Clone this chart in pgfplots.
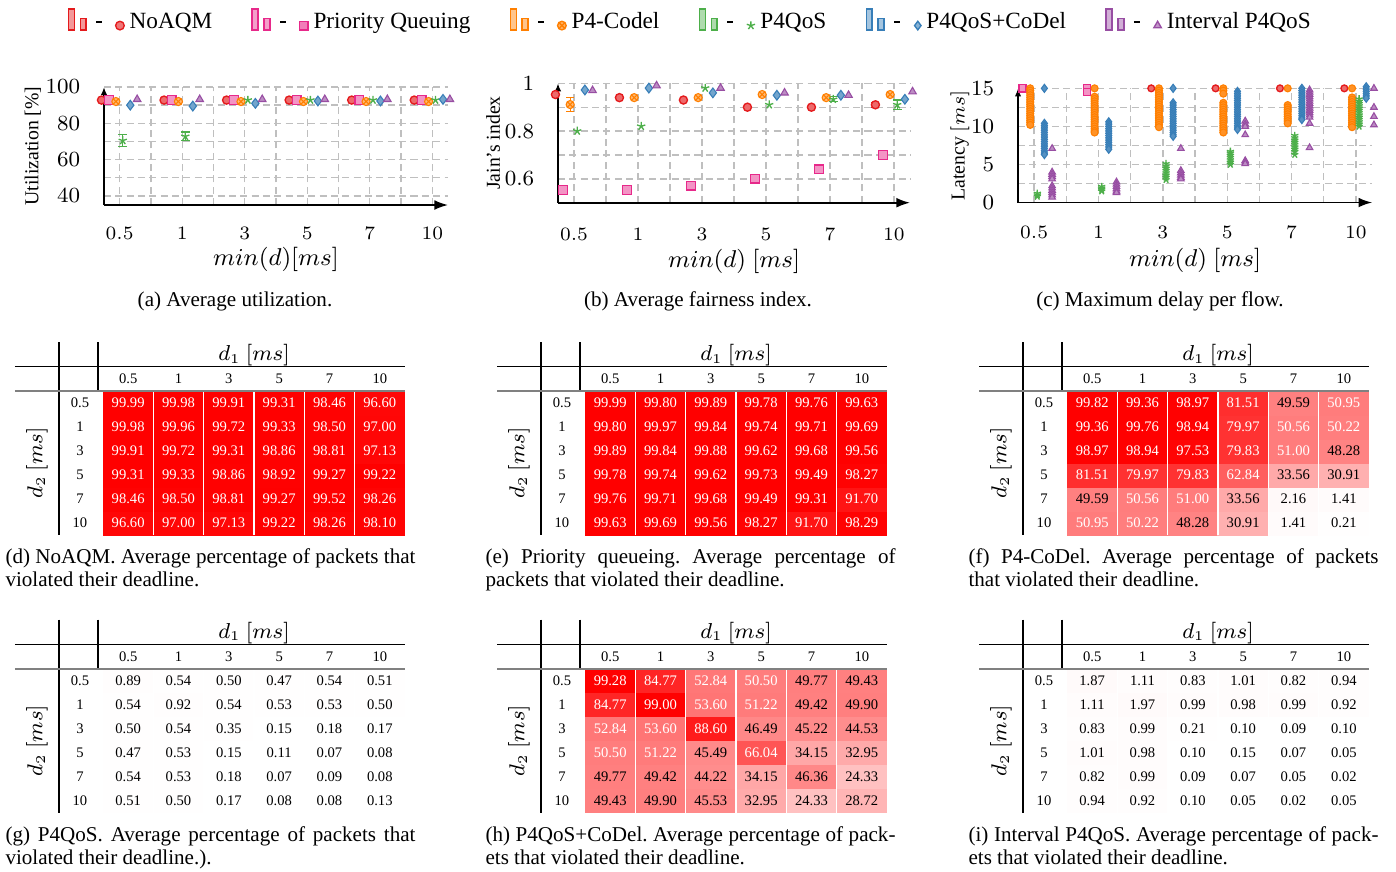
\documentclass[border=0pt]{standalone}
\usepackage{pgfplots}
\pgfplotsset{compat=1.18}
\usepackage{pgfplotstable}
\usepackage{fontspec}
\setmainfont{Liberation Serif}
\usetikzlibrary{arrows.meta}
\definecolor{cNo}{RGB}{228,26,28}
\definecolor{cPQ}{RGB}{231,41,138}
\definecolor{cCo}{RGB}{255,127,0}
\definecolor{cQ}{RGB}{77,175,74}
\definecolor{cQC}{RGB}{55,126,184}
\definecolor{cIn}{RGB}{152,78,163}

% heat-map data: x = column (d1 index), y = 5 - row index (row d2=0.5 at top)
\pgfplotstableread{
x y a b c d e f
0 0 96.60 99.63 50.95 0.51 49.43 0.94
1 0 97.00 99.69 50.22 0.50 49.90 0.92
2 0 97.13 99.56 48.28 0.17 45.53 0.10
3 0 99.22 98.27 30.91 0.08 32.95 0.05
4 0 98.26 91.70 1.41 0.08 24.33 0.02
5 0 98.10 98.29 0.21 0.13 28.72 0.05
0 1 98.46 99.76 49.59 0.54 49.77 0.82
1 1 98.50 99.71 50.56 0.53 49.42 0.99
2 1 98.81 99.68 51.00 0.18 44.22 0.09
3 1 99.27 99.49 33.56 0.07 34.15 0.07
4 1 99.52 99.31 2.16 0.09 46.36 0.05
5 1 98.26 91.70 1.41 0.08 24.33 0.02
0 2 99.31 99.78 81.51 0.47 50.50 1.01
1 2 99.33 99.74 79.97 0.53 51.22 0.98
2 2 98.86 99.62 79.83 0.15 45.49 0.10
3 2 98.92 99.73 62.84 0.11 66.04 0.15
4 2 99.27 99.49 33.56 0.07 34.15 0.07
5 2 99.22 98.27 30.91 0.08 32.95 0.05
0 3 99.91 99.89 98.97 0.50 52.84 0.83
1 3 99.72 99.84 98.94 0.54 53.60 0.99
2 3 99.31 99.88 97.53 0.35 88.60 0.21
3 3 98.86 99.62 79.83 0.15 46.49 0.10
4 3 98.81 99.68 51.00 0.18 45.22 0.09
5 3 97.13 99.56 48.28 0.17 44.53 0.10
0 4 99.98 99.80 99.36 0.54 84.77 1.11
1 4 99.96 99.97 99.76 0.92 99.00 1.97
2 4 99.72 99.84 98.94 0.54 53.60 0.99
3 4 99.33 99.74 79.97 0.53 51.22 0.98
4 4 98.50 99.71 50.56 0.53 49.42 0.99
5 4 97.00 99.69 50.22 0.50 49.90 0.92
0 5 99.99 99.99 99.82 0.89 99.28 1.87
1 5 99.98 99.80 99.36 0.54 84.77 1.11
2 5 99.91 99.89 98.97 0.50 52.84 0.83
3 5 99.31 99.78 81.51 0.47 50.50 1.01
4 5 98.46 99.76 49.59 0.54 49.77 0.82
5 5 96.60 99.63 50.95 0.51 49.43 0.94
}\heat

\newcommand\tabfont{\fontsize{5.4}{6}\selectfont}
\newcommand\capfont{\fontsize{7.8}{8.5}\selectfont\frenchspacing}

\pgfplotsset{
  top/.style={
    scale only axis, anchor=south west, clip=false,
    axis lines=left, axis line style={line width=0.6pt},
    x axis line style={-{Latex[length=5pt,width=3.6pt]}},
    y axis line style={-{Latex[length=3pt,width=2.4pt]}},
    xmin=-0.25, xmax=5.25,
    xtick={0,...,5}, xticklabels={$0.5$,$1$,$3$,$5$,$7$,$10$},
    minor x tick num=1, minor y tick num=1,
    grid=both, grid style={gray!50, dash pattern=on 2.6pt off 1.6pt, line width=0.5pt},
    minor grid style={gray!50, dash pattern=on 2.6pt off 1.6pt, line width=0.5pt},
    major grid style={gray!50, dash pattern=on 2.6pt off 1.6pt, line width=0.5pt},
    tick style={draw=none},
    xticklabel style={anchor=center, font=\fontsize{6.6}{7}\selectfont},
    yticklabel style={anchor=east, inner sep=0pt, font=\fontsize{8}{9}\selectfont},
    every axis x label/.style={at={(axis description cs:0.5,0)}, anchor=center, font=\fontsize{9.3}{10}\selectfont},
  },
  ylab/.style={every axis y label/.style={at={(axis description cs:0,0.5)}, xshift=#1, rotate=90, anchor=center, font=\fontsize{7.3}{8}\selectfont}},
  sNo/.style={only marks, mark=*, mark size=1.5pt, mark options={draw=cNo, fill=cNo!65, line width=0.5pt, solid}, cNo},
  sPQ/.style={only marks, mark=square*, mark size=1.6pt, mark options={draw=cPQ, fill=cPQ!50, line width=0.5pt, solid}, cPQ},
  sCo/.style={only marks, mark=otimes*, mark size=1.5pt, mark options={draw=cCo, fill=cCo!55, line width=0.4pt, solid}, cCo},
  sQ/.style={only marks, mark=star, mark size=1.6pt, mark options={draw=cQ, line width=0.5pt, solid}, cQ},
  sQC/.style={only marks, mark=diamond*, mark size=1.8pt, mark options={draw=cQC, fill=cQC!70, line width=0.4pt, solid}, cQC},
  sIn/.style={only marks, mark=triangle*, mark size=1.6pt, mark options={draw=cIn, fill=cIn!65, line width=0.4pt, solid}, cIn},
  heat/.style={
    scale only axis, anchor=north west, width=111.74pt, height=53.28pt,
    xmin=-0.5, xmax=5.5, ymin=-0.5, ymax=5.5, hide axis,
    colormap={wr}{rgb255=(255,255,255) rgb255=(255,0,0)},
    point meta min=0, point meta max=100,
  },
}

\newcommand\legimg[2]{%
\addlegendimage{legend image code/.code={
  \draw[#1, fill=#1!45, line width=0.5pt] (0pt,-2.8pt) rectangle (2.2pt,5pt);
  \draw[#1, fill=#1!45, line width=0.5pt] (4.4pt,-2.8pt) rectangle (6.6pt,1.5pt);
  \draw[black, line width=0.55pt] (10.3pt,0.2pt) -- (12.4pt,0.2pt);
  \draw[mark options={draw=#1, fill=#1!60, solid, line width=0.5pt}] plot[mark=#2, mark size=1.6pt] coordinates {(19.1pt,-1.2pt)};
}}}

\newcommand\heatmap[2]{%
\begin{axis}[heat, at={#1}]
\addplot[matrix plot*, mesh/cols=6, point meta=\thisrow{#2}] table[x=x,y=y]{\heat};
\pgfplotsinvokeforeach{0.5,1.5,2.5,3.5,4.5}{\draw[white,line width=0.6pt] (axis cs:##1,-0.5) -- (axis cs:##1,5.5);}
\addplot[only marks, mark=none, point meta=\thisrow{#2}, restrict expr to domain={\thisrow{#2}}{50:200},
  nodes near coords={\pgfmathprintnumber[fixed,fixed zerofill,precision=2,assume math mode=true]{\pgfplotspointmeta}},
  nodes near coords align={center},
  every node near coord/.append style={text=white, font=\tabfont, inner sep=0pt}] table[x=x,y=y]{\heat};
\addplot[only marks, mark=none, point meta=\thisrow{#2}, restrict expr to domain={\thisrow{#2}}{-1:49.995},
  nodes near coords={\pgfmathprintnumber[fixed,fixed zerofill,precision=2,assume math mode=true]{\pgfplotspointmeta}},
  nodes near coords align={center},
  every node near coord/.append style={text=black, font=\tabfont, inner sep=0pt}] table[x=x,y=y]{\heat};
\end{axis}}

\newcommand\tabdeco[2]{%
\begin{scope}[xshift=#1*0.37pt, yshift=-#2*0.37pt]
  \draw[black, line width=0.45pt] (59,342) -- (59,535);
  \draw[black, line width=0.45pt] (98,342) -- (98,391);
  \draw[black, line width=0.45pt] (15,366.7) -- (405,366.7);
  \draw[gray, line width=0.8pt] (15,391) -- (405,391);
  \node[font=\fontsize{7.8}{8}\selectfont] at (254,355) {$d_1~[ms]$};
  \node[font=\fontsize{7.8}{8}\selectfont, rotate=90] at (37,463) {$d_2~[ms]$};
  \foreach \t [count=\i from 0] in {0.5,1,3,5,7,10} {
    \node[font=\tabfont, inner sep=0pt] at (128.2+50.33*\i,379) {\t};
    \node[font=\tabfont, inner sep=0pt] at (80,403+24*\i) {\t};
  }
\end{scope}}

\begin{document}
\begin{tikzpicture}
\path[use as bounding box] (0pt,0pt) rectangle (516.52pt,-322.27pt);

% ---------------- (a) utilization ----------------
\begin{axis}[top, ylab=-26.3pt, at={(38.48pt,-75.85pt)}, width=127.28pt, height=43.66pt,
  ymin=35, ymax=100, ytick={40,60,80,100},
  xticklabel style={yshift=-8.4pt}, yticklabel style={xshift=-6.5pt},
  xlabel={$min(d)[ms]$}, ylabel={Utilization [\%]},
  x label style={yshift=-20.3pt},
  legend columns=6,
  legend style={at={(1.709,1.548)}, anchor=center, draw=none, fill=none,
    font=\fontsize{8.6}{9}\selectfont,
    /tikz/every even column/.append style={column sep=12.5pt}},
  legend cell align=left]
\legimg{cNo}{*}\addlegendentry{NoAQM}
\legimg{cPQ}{square*}\addlegendentry{Priority Queuing}
\legimg{cCo}{otimes*}\addlegendentry{P4-Codel}
\legimg{cQ}{star}\addlegendentry{P4QoS}
\legimg{cQC}{diamond*}\addlegendentry{P4QoS+CoDel}
\legimg{cIn}{triangle*}\addlegendentry{Interval P4QoS}
\addplot[sNo, forget plot, x filter/.expression={x-0.29}] coordinates {(0,92.8) (1,92.8) (2,92.8) (3,92.8) (4,92.8) (5,92.8)};
\addplot[sPQ, forget plot, x filter/.expression={x-0.17}] coordinates {(0,92.8) (1,92.8) (2,92.8) (3,92.8) (4,92.8) (5,92.8)};
\addplot[sCo, forget plot, x filter/.expression={x-0.06}] coordinates {(0,92) (1,92) (2,92) (3,92) (4,92) (5,92)};
\addplot[sQ, forget plot, x filter/.expression={x+0.05},
  error bars/.cd, y dir=both, y explicit, error bar style={cQ, line width=0.5pt}]
  coordinates {(0,70.5) +- (0,3.2) (1,72.8) +- (0,2.4) (2,92.8) (3,92.8) (4,92.8) (5,92.8)};
\addplot[sQC, forget plot, x filter/.expression={x+0.17}] coordinates {(0,90) (1,89.5) (2,91) (3,92.3) (4,92.3) (5,93.2)};
\addplot[sIn, forget plot, x filter/.expression={x+0.28}] coordinates {(0,93.2) (1,93.2) (2,93.2) (3,93.2) (4,93.2) (5,93.2)};
\end{axis}

% ---------------- (b) fairness ----------------
\begin{axis}[top, ylab=-24pt, at={(206.46pt,-75.0pt)}, width=130.24pt, height=44.18pt,
  ymin=0.5, ymax=1.0, ytick={0.6,0.8,1},
  xticklabel style={yshift=-9.5pt}, yticklabel style={xshift=-6.5pt},
  xlabel={$min(d)~[ms]$}, ylabel={Jain’s index},
  x label style={yshift=-21.8pt}]
\addplot[sNo, x filter/.expression={x-0.29},
  error bars/.cd, y dir=both, y explicit, error bar style={cNo}]
  coordinates {(0,0.953) (1,0.94) (2,0.93) (3,0.90) (4,0.90) (5,0.91) +- (0,0.01)};
\addplot[sPQ, x filter/.expression={x-0.17}] coordinates {(0,0.553) (1,0.553) (2,0.572) (3,0.60) (4,0.64) (5,0.70)};
\addplot[sCo, x filter/.expression={x-0.06},
  error bars/.cd, y dir=both, y explicit, error bar style={cCo}]
  coordinates {(0,0.911) +- (0,0.028) (1,0.94) (2,0.94) (3,0.953) (4,0.94) (5,0.953)};
\addplot[sQ, x filter/.expression={x+0.05},
  error bars/.cd, y dir=both, y explicit, error bar style={cQ}]
  coordinates {(0,0.80) (1,0.82) (2,0.98) (3,0.91) (4,0.933) +- (0,0.01) (5,0.91) +- (0,0.02)};
\addplot[sQC, x filter/.expression={x+0.17}] coordinates {(0,0.972) (1,0.98) (2,0.96) (3,0.95) (4,0.95) (5,0.933)};
\addplot[sIn, x filter/.expression={x+0.29}] coordinates {(0,0.97) (1,0.99) (2,0.98) (3,0.96) (4,0.95) (5,0.965)};
\end{axis}

% ---------------- (c) max delay ----------------
\begin{axis}[top, ylab=-21.5pt, at={(376.66pt,-74.93pt)}, width=130.98pt, height=42.25pt,
  ymin=0, ymax=15, ytick={0,5,10,15},
  xticklabel style={yshift=-9.1pt}, yticklabel style={xshift=-6.5pt},
  xlabel={$min(d)~[ms]$}, ylabel={Latency $[ms]$},
  x label style={yshift=-21.3pt}]
\addplot[sNo, mark size=1.25pt, x filter/.expression={x-0.18}] coordinates {(2,15) (3,15) (4,15) (5,15)};
\addplot[sPQ, mark size=1.35pt, x filter/.expression={x-0.18}] coordinates {(0,15) (1,15) (1,14.5)};
\addplot[sCo, mark=*, mark size=1.3pt, mark options={draw=cCo, fill=cCo!85}, x filter/.expression={x-0.06}] coordinates {
(0,15.0)(0,14.7)(0,14.4)(0,14.1)(0,13.8)(0,13.5)(0,13.2)(0,12.9)(0,12.6)(0,12.3)(0,12.0)(0,11.7)(0,11.4)(0,11.1)(0,10.8)(0,10.5)(0,10.2)
(1,15.0)(1,13.9)(1,13.6)(1,13.3)(1,13.0)(1,12.7)(1,12.4)(1,12.1)(1,11.8)(1,11.5)(1,11.2)(1,10.9)(1,10.6)(1,10.3)(1,10.0)(1,9.7)(1,9.4)(1,9.2)
(2,15.0)(2,14.7)(2,14.4)(2,14.1)(2,13.8)(2,13.5)(2,13.2)(2,12.9)(2,12.6)(2,12.3)(2,12.0)(2,11.7)(2,11.4)(2,11.1)(2,10.8)(2,10.5)(2,10.2)(2,9.9)
(3,15.0)(3,14.7)(3,14.3)(3,13.1)(3,12.8)(3,12.5)(3,12.2)(3,11.9)(3,11.6)(3,11.3)(3,11.0)(3,10.7)(3,10.4)(3,10.1)(3,9.8)(3,9.5)(3,9.2)
(4,15.0)(4,12.8)(4,12.5)(4,12.2)(4,11.9)(4,11.6)(4,11.3)(4,11.0)(4,10.7)(4,10.4)
(5,15.0)(5,13.8)(5,13.5)(5,13.2)(5,12.9)(5,12.6)(5,12.3)(5,12.0)(5,11.7)(5,11.4)(5,11.1)(5,10.8)(5,10.5)(5,10.2)(5,9.9)};
\addplot[sQ, mark size=1.4pt, x filter/.expression={x+0.05}] coordinates {
(0,0.8)(0,1.0)(0,1.2)
(1,1.5)(1,1.7)(1,1.9)(1,2.1)
(2,3.0)(2,3.3)(2,3.6)(2,3.9)(2,4.2)(2,4.5)(2,4.8)(2,5.1)
(3,5.0)(3,5.3)(3,5.6)(3,5.9)(3,6.2)(3,6.5)(3,6.7)
(4,6.3)(4,6.7)(4,7.0)(4,7.3)(4,7.6)(4,7.9)(4,8.2)(4,8.5)(4,8.8)
(5,10.0)(5,10.3)(5,10.6)(5,10.9)(5,11.2)(5,11.5)(5,11.8)(5,12.1)(5,12.4)(5,12.7)(5,13.0)(5,13.3)(5,13.6)};
\addplot[sQC, mark size=1.5pt, mark options={draw=cQC, fill=cQC!85}, x filter/.expression={x+0.16}] coordinates {
(0,15)(0,10.4)(0,10.1)(0,9.8)(0,9.5)(0,9.2)(0,8.9)(0,8.6)(0,8.3)(0,8.0)(0,7.7)(0,7.4)(0,7.1)(0,6.8)(0,6.5)(0,6.3)
(1,10.6)(1,10.3)(1,10.0)(1,9.7)(1,9.4)(1,9.1)(1,8.8)(1,8.5)(1,8.2)(1,7.9)(1,7.6)(1,7.3)(1,7.0)
(2,15)(2,13.1)(2,12.8)(2,12.5)(2,12.2)(2,11.9)(2,11.6)(2,11.3)(2,11.0)(2,10.7)(2,10.4)(2,10.1)(2,9.8)(2,9.5)(2,9.2)(2,8.9)(2,8.7)
(3,14.6)(3,14.3)(3,14.0)(3,13.7)(3,13.4)(3,13.1)(3,12.8)(3,12.5)(3,12.2)(3,11.9)(3,11.6)(3,11.3)(3,11.0)(3,10.7)(3,10.4)(3,10.1)(3,9.8)(3,9.6)
(4,15.0)(4,14.7)(4,14.4)(4,14.1)(4,13.8)(4,13.5)(4,13.2)(4,12.9)(4,12.6)(4,12.3)(4,12.0)(4,11.7)(4,11.4)(4,11.1)(4,10.9)
(5,15.2)(5,14.9)(5,14.6)(5,14.3)(5,14.0)(5,13.7)};
\addplot[sIn, mark size=1.4pt, x filter/.expression={x+0.28}] coordinates {
(0,7.1)(0,4.0)(0,3.7)(0,3.4)(0,3.1)(0,2.2)(0,1.9)(0,1.6)(0,1.3)(0,1.0)(0,0.7)
(1,2.7)(1,2.4)(1,2.1)(1,1.8)(1,1.5)(1,1.3)
(2,7.1)(2,4.2)(2,3.9)(2,3.6)(2,3.3)(2,3.1)
(3,10.7)(3,10.3)(3,10.0)(3,8.9)(3,5.5)(3,5.3)(3,5.1)
(4,14.8)(4,14.5)(4,14.2)(4,13.9)(4,13.6)(4,13.3)(4,13.0)(4,12.7)(4,12.4)(4,12.1)(4,11.8)(4,11.5)(4,11.2)(4,10.4)(4,7.2)
(5,15)(5,12.5)(5,11.3)(5,10.2)};
\end{axis}

% ---------------- heat maps ----------------
\heatmap{(38.11pt,-144.67pt)}{a}
\heatmap{(216.45pt,-144.67pt)}{b}
\heatmap{(394.79pt,-144.67pt)}{c}
\heatmap{(38.11pt,-247.38pt)}{d}
\heatmap{(216.45pt,-247.38pt)}{e}
\heatmap{(394.79pt,-247.38pt)}{f}

\begin{scope}[x=0.37pt,y=-0.37pt]
\tabdeco{0}{0}\tabdeco{482}{0}\tabdeco{964}{0}
\tabdeco{0}{277.6}\tabdeco{482}{277.6}\tabdeco{964}{277.6}

\node[font=\capfont] at (235,301) {(a) Average utilization.};
\node[font=\capfont] at (698,301) {(b) Average fairness index.};
\node[font=\capfont] at (1160,301) {(c) Maximum delay per flow.};

\node[font=\capfont, anchor=north west, inner sep=0pt, text width=151.7pt, align=justify] at (5,548)
  {(d) NoAQM. Average percentage of packets that\linebreak violated their deadline.};
\node[font=\capfont, anchor=north west, inner sep=0pt, text width=151.7pt, align=justify] at (485,548)
  {(e) Priority queueing. Average percentage of\linebreak packets that violated their deadline.};
\node[font=\capfont, anchor=north west, inner sep=0pt, text width=151.7pt, align=justify] at (968,548)
  {(f) P4-CoDel. Average percentage of packets\linebreak that violated their deadline.};
\node[font=\capfont, anchor=north west, inner sep=0pt, text width=151.7pt, align=justify] at (5,826)
  {(g) P4QoS. Average percentage of packets that\linebreak violated their deadline.).};
\node[font=\capfont, anchor=north west, inner sep=0pt, text width=151.7pt, align=justify] at (485,826)
  {(h) P4QoS+CoDel. Average percentage of pack-\linebreak ets that violated their deadline.};
\node[font=\capfont, anchor=north west, inner sep=0pt, text width=151.7pt, align=justify] at (968,826)
  {(i) Interval P4QoS. Average percentage of pack-\linebreak ets that violated their deadline.};
\end{scope}
\end{tikzpicture}
\end{document}
